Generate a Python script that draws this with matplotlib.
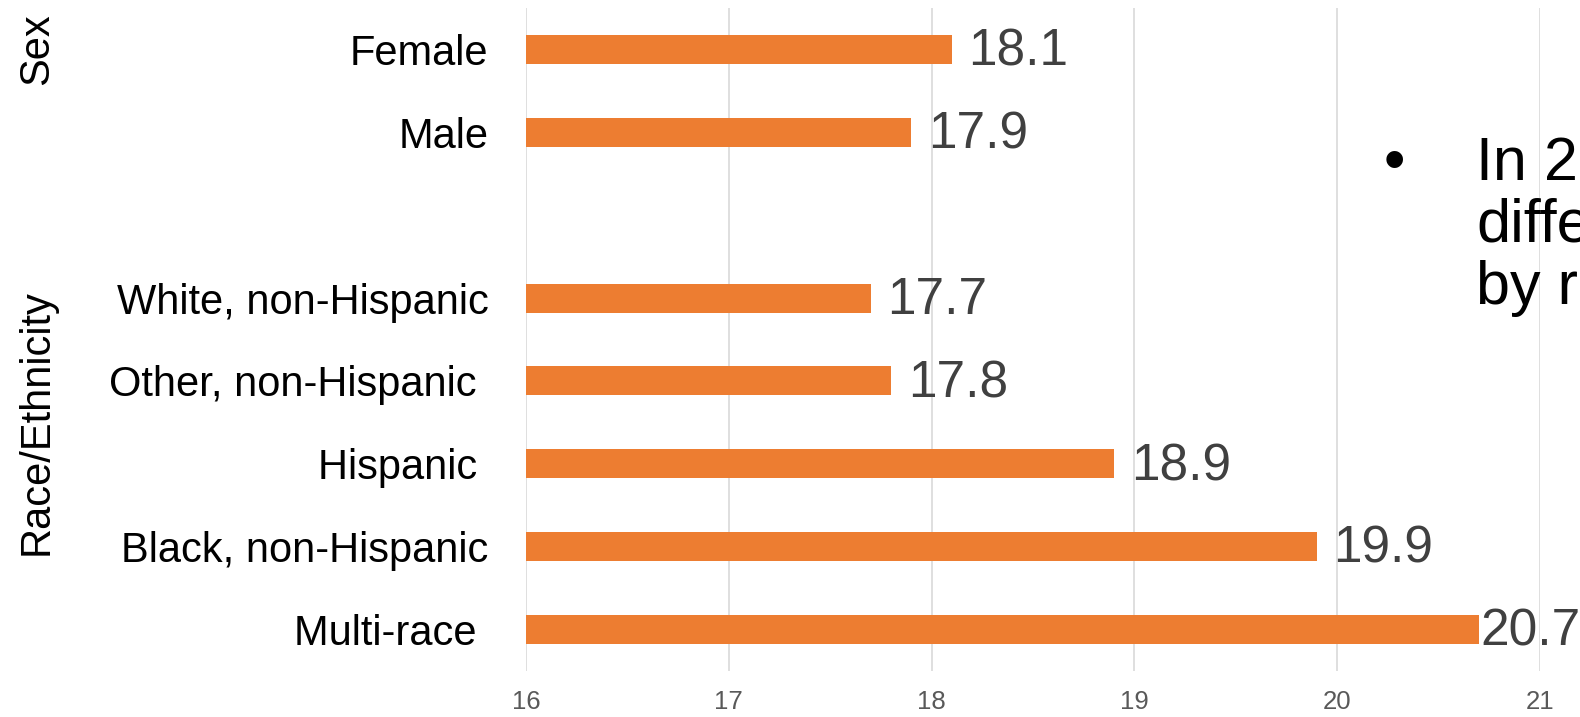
import numpy as np
import matplotlib.pyplot as plt
from matplotlib import transforms

plt.rcParams['font.family'] = ['Liberation Sans', 'DejaVu Sans']

# data
categories = ['Female', 'Male', '', 'White, non-Hispanic', 'Other, non-Hispanic ',
              'Hispanic ', 'Black, non-Hispanic', 'Multi-race ']
values = [18.1, 17.9, np.nan, 17.7, 17.8, 18.9, 19.9, 20.7]
groups = [('Sex', 0.0), ('Race/Ethnicity', 4.5)]
xticks = [16, 17, 18, 19, 20, 21]
note_lines = ['In 2', 'diffe', 'by r']

BAR = '#ED7D31'

fig = plt.figure(figsize=(15.8, 7.17), dpi=100)
ax = fig.add_axes([526 / 1580, 1 - 671 / 717, (1540 - 526) / 1580, (671 - 8) / 717])

y = np.arange(len(categories))
ax.barh(y, np.nan_to_num(values, nan=16) - 16, left=16, height=0.35, color=BAR, zorder=2)

ax.set_xlim(16, 21)
ax.set_ylim(len(categories) - 0.5, -0.5)
ax.set_xticks(xticks)
ax.set_xticklabels([str(t) for t in xticks], fontsize=18.5, color='#595959')
ax.set_yticks(y)
ax.set_yticklabels(categories, fontsize=30, color='black')
ax.tick_params(axis='both', length=0)
ax.tick_params(axis='x', pad=14)
ax.tick_params(axis='y', pad=27)
ax.grid(axis='x', color='#D9D9D9', linewidth=1.2, zorder=0)
for s in ax.spines.values():
    s.set_visible(False)

# value labels
for i, v in enumerate(values):
    if np.isnan(v):
        continue
    off = 12 if i < len(values) - 1 else 1
    ax.annotate(f'{v:.1f}', xy=(v, i), xytext=(off, -2), textcoords='offset points',
                va='center', ha='left', fontsize=37, color='#404040', annotation_clip=False)

# group labels
trans = transforms.blended_transform_factory(fig.transFigure, ax.transData)
for name, yc in groups:
    fig.text(37 / 1580, yc, name, transform=trans, rotation=90, fontsize=30,
             ha='center', va='center')

# clipped text box on the right
fig.text(1394 / 1580, 1 - 180 / 717, '•', fontsize=44, ha='center', va='baseline')
for k, line in enumerate(note_lines):
    fig.text(1476 / 1580, 1 - (180 + 62 * k) / 717, line, fontsize=44,
             ha='left', va='baseline')

fig.savefig('out.png', dpi=100)
